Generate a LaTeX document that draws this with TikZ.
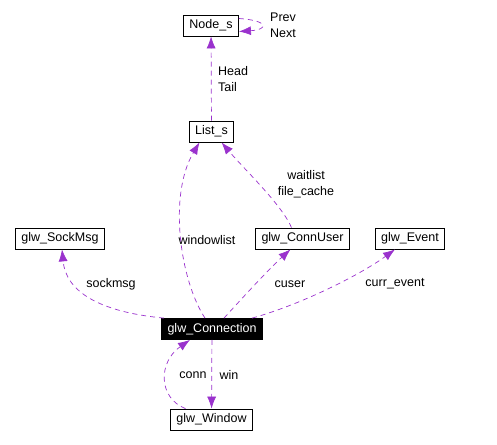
\documentclass[tikz,border=0pt]{standalone}
\usepackage{fontspec}
\usepackage{tikz}
\usetikzlibrary{arrows.meta}
\setmainfont{Liberation Sans}
\definecolor{orchid}{HTML}{9A32CD}

\begin{document}
\begin{tikzpicture}[x=1pt,y=-1pt,
  font=\fontsize{12.5}{16}\selectfont,
  klass/.style={draw,line width=0.8pt,minimum height=21pt,inner xsep=6pt,inner ysep=2pt},
  focus/.style={klass,fill=black,text=white},
  edge/.style={orchid,dash pattern=on 5pt off 4pt,line width=0.7pt,-{Latex[length=12pt,width=9pt]}},
  lbl/.style={align=left,inner sep=0pt}]
      \useasboundingbox (0,0) rectangle (497,444);

      \node[klass] (nodes)   at (211,25.5)  {Node\_s};
      \node[klass] (lists)   at (211.5,131.5) {List\_s};
      \node[klass] (sockmsg) at (60,238.5)  {glw\_SockMsg};
      \node[klass] (connuser) at (302.5,238.5) {glw\_ConnUser};
      \node[klass] (event)   at (410,238.5) {glw\_Event};
      \node[focus] (conn)    at (212,329)   {glw\_Connection};
      \node[klass] (window)  at (211.5,419.5) {glw\_Window};

      % edge labels
      \node[lbl,anchor=west] (pn) at (270,25) {Prev\\Next};
      \node[lbl,anchor=west] (ht) at (218,79) {Head\\Tail};
      \node[align=center,inner sep=0pt] (wf) at (306,184) {waitlist\\file\_cache};
      \node[inner sep=0pt] (wl) at (207,240) {windowlist};
      \node[inner sep=0pt] (sm) at (111,284) {sockmsg};
      \node[inner sep=0pt] (cu) at (290,284) {cuser};
      \node[inner sep=0pt] (ce) at (395,284) {curr\_event};
      \node[inner sep=0pt] (cn) at (193,375) {conn};
      \node[inner sep=0pt] (wn) at (229,375) {win};

      \draw[edge] ([yshift=7pt]nodes.east) .. controls +(30pt,-2pt) and +(30pt,2pt) .. ([yshift=-6pt]nodes.east);
      \draw[edge] (lists) -- (nodes);
      \draw[edge] ([xshift=-7pt]conn.north) .. controls (180,280) and (168,195) .. ([xshift=-12pt]lists.south);
      \draw[edge] ([xshift=-11pt]connuser.north) .. controls (282,205) and (245,170) .. ([xshift=10pt]lists.south);
      \draw[edge] ([xshift=-48pt]conn.north) .. controls (100,312) and (66,292) .. ([xshift=2pt]sockmsg.south);
      \draw[edge] ([xshift=12pt]conn.north) .. controls (245,295) and (270,268) .. ([xshift=-12pt]connuser.south);
      \draw[edge] ([xshift=40pt]conn.north) .. controls (300,305) and (360,275) .. ([xshift=-15pt]event.south);
      \draw[edge] ([xshift=-26pt]window.north) .. controls (158,398) and (158,362) .. ([xshift=-22pt]conn.south);
      \draw[edge] (conn) -- (window);
    \end{tikzpicture}
\end{document}
